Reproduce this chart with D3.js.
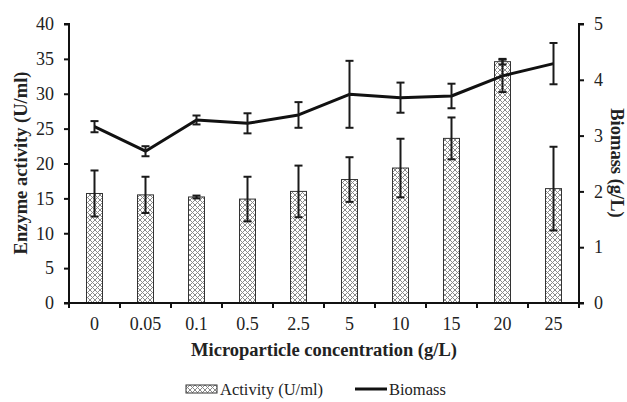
<!DOCTYPE html>
<html>
<head>
<meta charset="utf-8">
<script src="https://cdn.jsdelivr.net/npm/d3@7"></script>
<style>
body { margin: 0; background: #fff; }
svg text { font-family: "Liberation Serif", "Times New Roman", serif; fill: #222; }
</style>
</head>
<body>
<svg id="chart" width="627" height="402"></svg>
<script>
var categories = ["0", "0.05", "0.1", "0.5", "2.5", "5", "10", "15", "20", "25"];
var activity    = [15.7, 15.5, 15.2, 14.9, 16.0, 17.7, 19.35, 23.6, 34.6, 16.4];
var activityErr = [3.3, 2.6, 0.2, 3.2, 3.7, 3.2, 4.2, 3.0, 0.4, 6.0];
var biomass     = [3.16, 2.72, 3.28, 3.22, 3.37, 3.74, 3.68, 3.71, 4.07, 4.29];
var biomassErr  = [0.10, 0.09, 0.08, 0.18, 0.23, 0.60, 0.27, 0.22, 0.29, 0.37];
var leftTicks  = [0, 5, 10, 15, 20, 25, 30, 35, 40];
var rightTicks = [0, 1, 2, 3, 4, 5];

var svg = d3.select("#chart");
var m = {left: 69, right: 579, top: 24, bottom: 303};

var x = d3.scaleBand()
    .domain(categories)
    .range([m.left, m.right]);
var yL = d3.scaleLinear().domain([0, 40]).range([m.bottom, m.top]);
var yR = d3.scaleLinear().domain([0, 5]).range([m.bottom, m.top]);

// crosshatch pattern for bars
var pat = svg.append("defs").append("pattern")
    .attr("id", "hatch")
    .attr("patternUnits", "userSpaceOnUse")
    .attr("width", 5).attr("height", 5);
pat.append("rect").attr("width", 5).attr("height", 5).attr("fill", "#fff");
pat.append("path")
    .attr("d", "M0,0L5,5M5,0L0,5")
    .attr("stroke", "#8a8a8a")
    .attr("stroke-width", 1);

var barW = 16;

// bars
svg.selectAll("rect.bar")
    .data(categories)
    .enter()
    .append("rect")
    .attr("class", "bar")
    .attr("x", d => x(d) + x.bandwidth() / 2 - barW / 2)
    .attr("y", (d, i) => yL(activity[i]))
    .attr("width", barW)
    .attr("height", (d, i) => yL(0) - yL(activity[i]))
    .attr("fill", "url(#hatch)")
    .attr("stroke", "#333")
    .attr("stroke-width", 1);

function errorBars(cls, vals, errs, scale) {
    var g = svg.append("g").attr("class", cls)
	.attr("stroke", "#1a1a1a")
	.attr("stroke-width", 2)
	.attr("fill", "none");
    categories.forEach(function(c, i) {
	var cx = x(c) + x.bandwidth() / 2;
	var hi = scale(vals[i] + errs[i]);
	var lo = scale(vals[i] - errs[i]);
	g.append("line").attr("x1", cx).attr("x2", cx).attr("y1", hi).attr("y2", lo);
	g.append("line").attr("x1", cx - 4).attr("x2", cx + 4).attr("y1", hi).attr("y2", hi);
	g.append("line").attr("x1", cx - 4).attr("x2", cx + 4).attr("y1", lo).attr("y2", lo);
    });
}
errorBars("err-activity", activity, activityErr, yL);

// biomass line
var line = d3.line()
    .x((d, i) => x(categories[i]) + x.bandwidth() / 2)
    .y(d => yR(d));
svg.append("path")
    .datum(biomass)
    .attr("d", line)
    .attr("fill", "none")
    .attr("stroke", "#111")
    .attr("stroke-width", 3)
    .attr("stroke-linejoin", "round");
errorBars("err-biomass", biomass, biomassErr, yR);

// axes
var axisL = svg.append("g")
    .attr("transform", "translate(" + m.left + ",0)")
    .call(d3.axisLeft(yL).tickValues(leftTicks).tickSize(5).tickPadding(10));
var axisR = svg.append("g")
    .attr("transform", "translate(" + m.right + ",0)")
    .call(d3.axisRight(yR).tickValues(rightTicks).tickFormat(d3.format("d")).tickSize(5).tickPadding(10));
var axisX = svg.append("g")
    .attr("transform", "translate(0," + m.bottom + ")")
    .call(d3.axisBottom(x).tickSize(0).tickPadding(14));

// x tick marks at band boundaries
axisX.selectAll("line.sep")
    .data(categories.concat(["end"]))
    .enter()
    .append("line")
    .attr("class", "sep")
    .attr("x1", (d, i) => m.left + i * x.step())
    .attr("x2", (d, i) => m.left + i * x.step())
    .attr("y1", 0).attr("y2", 5)
    .attr("stroke", "#111").attr("stroke-width", 2);

[axisL, axisR, axisX].forEach(function(a) {
    a.attr("font-family", null);
    a.select(".domain").attr("stroke", "#111").attr("stroke-width", 2);
    a.selectAll(".tick line").attr("stroke", "#111").attr("stroke-width", 2);
    a.selectAll("text")
	.attr("font-size", 18)
	.attr("fill", "#222");
});
axisL.select(".domain").attr("d", "M-5," + m.top + "H0V" + m.bottom + "H-5");
axisR.select(".domain").attr("d", "M5," + m.top + "H0V" + m.bottom + "H5");
axisX.select(".domain").attr("d", "M" + m.left + ",0H" + m.right);

// titles
svg.append("text")
    .attr("x", 324).attr("y", 356)
    .attr("text-anchor", "middle")
    .attr("font-weight", "bold")
    .attr("font-size", 18.5)
    .text("Microparticle concentration (g/L)");
svg.append("text")
    .attr("transform", "translate(27,163) rotate(-90)")
    .attr("text-anchor", "middle")
    .attr("font-weight", "bold")
    .attr("font-size", 18.5)
    .text("Enzyme activity (U/ml)");
svg.append("text")
    .attr("transform", "translate(611,163) rotate(90)")
    .attr("text-anchor", "middle")
    .attr("font-weight", "bold")
    .attr("font-size", 18.5)
    .text("Biomass (g/L)");

// legend
var leg = svg.append("g");
leg.append("rect")
    .attr("x", 186).attr("y", 385).attr("width", 31).attr("height", 8)
    .attr("fill", "url(#hatch)").attr("stroke", "#333").attr("stroke-width", 1);
leg.append("text").attr("x", 220).attr("y", 395).attr("font-size", 16.5).text("Activity (U/ml)");
leg.append("line")
    .attr("x1", 355).attr("x2", 387).attr("y1", 389).attr("y2", 389)
    .attr("stroke", "#111").attr("stroke-width", 3);
leg.append("text").attr("x", 389).attr("y", 395).attr("font-size", 16.5).text("Biomass");
</script>
</body>
</html>
